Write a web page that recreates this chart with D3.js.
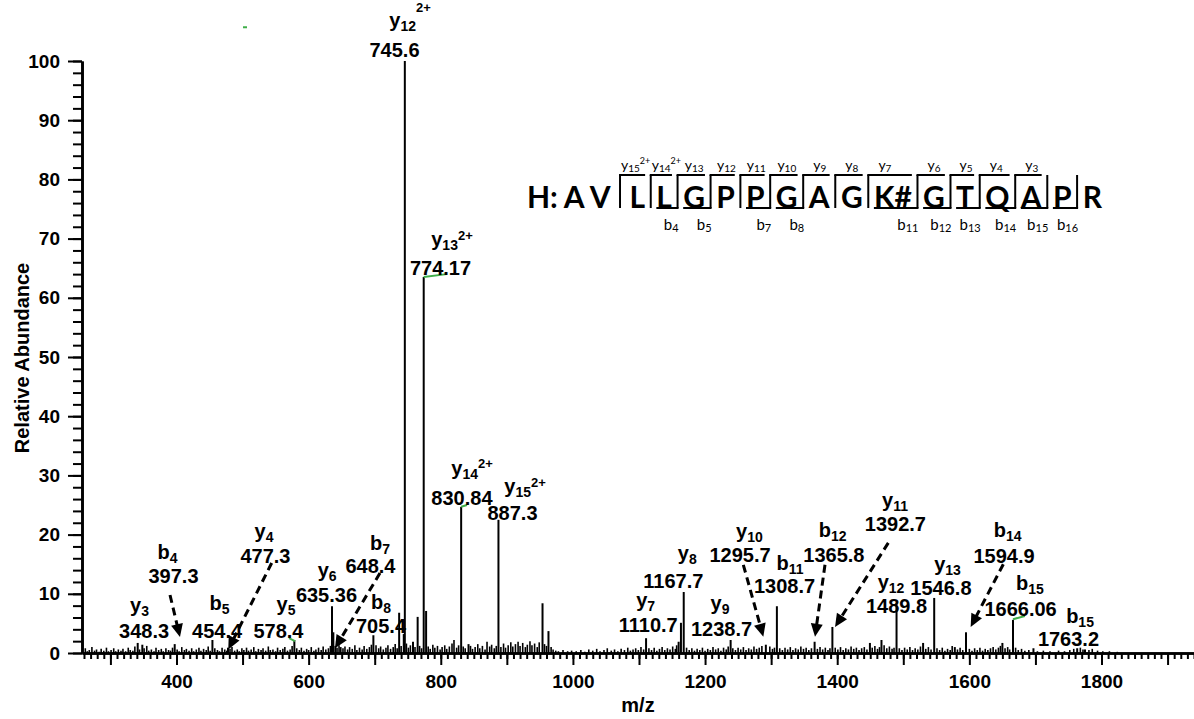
<!DOCTYPE html>
<html>
<head>
<meta charset="utf-8">
<script src="https://cdnjs.cloudflare.com/ajax/libs/d3/7.8.5/d3.min.js"></script>
<style>
  body { margin: 0; background: #fff; }
  svg { display: block; font-family: "Liberation Sans", Arial, sans-serif; }
</style>
</head>
<body>
<div id="chart"></div>
<script>
// ---- Data ----

// labelled fragment peaks (m/z, relative abundance %)
var peakMz  = [348.3, 397.3, 454.4, 578.4, 635.36, 698.0, 745.6, 774.17, 830.84, 887.3,
               1110.7, 1163.5, 1167.7, 1238.7, 1308.7, 1365.8, 1392.7, 1489.8, 1546.8, 1594.9, 1666.06, 1763.2];
var peakInt = [1.4, 1.5, 2.2, 2.2, 7.9, 3.0, 100, 63.5, 24.7, 22.5,
               2.5, 5.1, 10.3, 2.2, 7.9, 1.9, 4.4, 8.4, 9.3, 3.5, 5.6, 0.8];

// other visible peaks
var otherMz  = [341.3, 478.0, 637.4, 640.5, 648.4, 737.0, 744.0, 758.0, 765.0, 777.8, 842.0,
                954.0, 963.0, 1160.0, 1292.0, 1449.5, 1467.0, 1530.0, 1578.0, 1650.0, 1697.0, 1775.0];
var otherInt = [1.7, 0.9, 3.5, 1.2, 1.0, 6.8, 3.2, 1.9, 6.1, 7.1, 1.5,
                8.4, 3.7, 1.9, 1.4, 1.7, 2.2, 1.7, 1.0, 1.7, 0.8, 0.6];

// baseline noise (m/z, %)
var noiseA = [[262,0.8],[265,0.3],[268,0.5],[272,1.0],[276,0.4],[279,0.6],[283,0.2],[286,0.7],[290,0.4],[294,0.9],
  [297,0.3],[301,0.5],[305,0.8],[308,0.3],[312,0.6],[316,0.4],[319,0.7],[323,0.3],[327,0.9],[330,0.5],[334,0.4],
  [337,1.1],[344,0.6],[351,0.8],[355,1.2],[358,0.4],[362,0.6],[366,0.3],[369,0.9],[373,0.5],[377,0.7],[380,0.3],
  [384,0.8],[388,0.5],[391,0.4],[394,0.9],[401,0.6],[404,0.3],[408,1.0],[412,0.5],[415,0.7],[419,0.4],[423,0.8],
  [426,0.3],[430,0.6],[434,0.9],[437,0.4],[441,0.7],[445,0.5],[448,1.1],[451,0.4],[458,0.8],[462,0.5],[465,0.3],
  [469,0.9],[473,0.6],[476,0.4],[481,0.7],[484,1.0],[488,0.4],[492,0.6],[495,0.3],[499,0.8]];
var noiseB = [[502,0.5],[506,0.9],[509,0.4],[513,0.6],[517,1.0],[520,0.3],[524,0.7],[528,0.5],[531,0.8],[535,0.4],
  [539,1.1],[542,0.5],[546,0.6],[550,0.3],[553,0.9],[557,0.5],[561,0.7],[564,1.0],[568,0.4],[572,0.6],[575,1.2],
  [582,0.8],[586,0.5],[589,0.9],[593,0.4],[597,0.7],[600,0.5],[604,1.0],[608,0.4],[611,0.6],[615,0.9],[619,0.5],
  [622,1.1],[626,0.6],[630,0.8],[633,1.2],[643,0.9],[646,1.3],[652,0.8],[655,1.1],[659,0.6],[662,1.0],[666,0.7],
  [670,1.3],[673,0.5],[677,0.9],[681,0.6],[684,1.2],[688,0.7],[692,1.0],[695,1.4],[702,1.3],[706,0.8],[709,1.1],
  [713,0.6],[717,0.9],[720,1.3],[724,0.7],[728,1.0],[731,1.5],[734,0.8],[740,1.2],[748,1.6],[751,0.9],[754,1.3],[761,1.0]];
var noiseC = [[768,1.2],[771,0.8],[781,1.1],[784,0.7],[788,1.4],[791,0.9],[795,1.2],[799,0.6],[802,1.0],[806,1.3],
  [809,0.7],[813,1.1],[817,1.6],[820,2.2],[824,0.9],[827,1.3],[834,1.1],[837,0.8],[845,1.2],[848,0.7],[852,1.0],
  [856,1.5],[859,0.8],[863,1.2],[867,0.6],[870,1.9],[874,1.1],[877,1.4],[881,0.8],[884,1.2],[891,1.0],[895,1.6],
  [898,0.9],[902,1.3],[906,1.8],[909,1.1],[913,1.5],[917,1.9],[920,1.2],[924,1.7],[928,1.0],[931,1.4],[935,2.0],
  [938,1.3],[942,1.6],[946,1.0],[949,1.8],[957,1.5],[960,1.2],[967,1.0],[970,0.6],[974,0.4],[978,0.3],[985,0.5],
  [992,0.3],[998,0.4]];
var noiseD = [[1005,0.3],[1012,0.5],[1018,0.2],[1024,0.6],[1030,0.4],[1036,0.7],[1041,0.3],[1047,0.5],[1052,0.8],
  [1058,0.4],[1063,0.6],[1068,0.3],[1073,0.7],[1078,0.5],[1083,0.9],[1087,0.4],[1091,0.6],[1095,0.8],[1099,0.5],
  [1103,1.0],[1107,0.6],[1115,0.8],[1119,0.5],[1123,0.9],[1127,0.4],[1131,0.7],[1135,1.0],[1139,0.5],[1143,0.8],
  [1147,0.6],[1151,1.1],[1155,0.7],[1157,1.3],[1172,0.9],[1176,0.5],[1180,0.8],[1184,0.4],[1188,0.7],[1192,0.5],
  [1196,0.9],[1200,0.4],[1204,0.7],[1208,0.5],[1212,1.0],[1216,0.6],[1220,0.8],[1224,0.4],[1228,0.9],[1232,0.6],
  [1235,1.1],[1242,0.8],[1246,0.5],[1250,0.9],[1254,0.6],[1258,1.0],[1262,0.5],[1266,0.8],[1270,0.6],[1274,1.1],
  [1278,0.7],[1282,0.9],[1286,1.2],[1298,1.1],[1302,0.7],[1305,0.9]];
var noiseE = [[1313,0.8],[1317,0.5],[1321,0.9],[1325,0.6],[1329,1.0],[1333,0.5],[1337,0.8],[1341,0.6],[1345,1.1],
  [1349,0.7],[1353,0.9],[1357,0.5],[1361,0.8],[1370,0.7],[1374,1.0],[1378,0.6],[1382,0.9],[1386,0.5],[1389,0.8],
  [1397,0.9],[1401,0.6],[1405,1.0],[1409,0.5],[1413,0.8],[1417,0.6],[1421,1.1],[1425,0.7],[1429,0.9],[1433,0.5],
  [1437,0.8],[1441,1.0],[1445,0.6],[1453,0.9],[1457,1.2],[1461,0.7],[1464,1.0],[1471,1.3],[1475,0.8],[1479,1.1],
  [1483,0.7],[1486,0.9],[1494,0.8],[1498,0.5]];
var noiseF = [[1502,0.9],[1506,0.6],[1510,1.0],[1514,0.5],[1518,0.8],[1522,0.6],[1526,1.1],[1534,0.7],[1538,1.0],
  [1542,0.6],[1551,0.8],[1555,0.5],[1559,0.9],[1563,0.4],[1567,0.7],[1571,0.5],[1574,1.2],[1582,0.6],[1586,0.9],
  [1590,0.5],[1600,0.7],[1604,0.4],[1608,0.8],[1612,0.5],[1616,0.9],[1620,0.4],[1624,0.7],[1628,0.5],[1632,0.8],
  [1636,1.0],[1640,0.6],[1644,0.9],[1647,1.2],[1654,0.8],[1658,1.0],[1661,0.6],[1670,0.9],[1674,0.5],[1679,0.7],
  [1684,0.4],[1690,0.5],[1703,0.3],[1712,0.4],[1722,0.3],[1735,0.4],[1744,0.3],[1752,0.5],[1758,0.7],[1768,0.9],
  [1772,0.6],[1781,0.5],[1786,0.7],[1794,0.4],[1802,0.3],[1812,0.3],[1824,0.2]];

// fragment ion annotations
var ionType   = ["y","y","y","y","b","y","b","y","b","y","b","y","y","y","y","y","b","b","y","y","y","b","b","b"];
var ionNum    = ["12","13","14","15","4","4","7","6","8","3","5","5","8","7","9","10","11","12","11","12","13","14","15","15"];
var ionCharge = ["2+","2+","2+","2+","","","","","","","","","","","","","","","","","","","",""];
var ionMzText = ["745.6","774.17","830.84","887.3","397.3","477.3","648.4","635.36","705.4","348.3","454.4","578.4",
                 "1167.7","1110.7","1238.7","1295.7","1308.7","1365.8","1392.7","1489.8","1546.8","1594.9","1666.06","1763.2"];

// y / b ticks
var yTicks = d3.range(0, 101, 10);
var xTickLabels = [400, 600, 800, 1000, 1200, 1400, 1600, 1800];

// peptide sequence and observed cleavages (after residue n)
var residues  = ["A","V","L","L","G","P","P","G","A","G","K#","G","T","Q","A","P","R"];
var yCutAfter = [2,3,4,5,6,7,8,9,10,11,12,13,14];
var yCutZ     = ["2+","2+","","","","","","","","","","",""];
var bCutAfter = [4,5,7,8,11,12,13,14,15,16];

// ---- Layout (data units) for annotation text ----
// [number centre m/z, number baseline %, name centre m/z, name baseline %]
var ionTextAt = [[730,100.7,753.5,105.7],[799.6,63.9,817,68.7],[832,25.0,847.4,30.1],[908.6,22.5,927.5,27.0],
  [395.5,11.8,386.4,15.9],[534.7,15.2,532.5,19.4],[693.6,13.5,708,17.4],[627,8.6,628,12.9],[709.6,3.4,709.6,7.4],
  [351,2.5,344,7.0],[461.4,2.5,465,7.3],[554.3,2.5,565.7,7.1],[1152,11.0,1173,15.7],[1114,3.5,1110,7.8],
  [1225,2.9,1222.6,7.3],[1252.9,15.4,1267.2,19.4],[1320.2,10.1,1328.6,14.0],[1395,15.4,1393,19.6],
  [1488,20.6,1487.5,24.7],[1489.8,6.8,1481.4,10.8],[1557,9.8,1567,13.9],[1652.5,15.2,1658,19.6],
  [1677.5,6.25,1691.8,10.6],[1750,1.2,1767.5,5.1]];
// superscript lift (px) of the charge label on each ion name
var supLift = [15,6,7,6,0,0,0,0,0,0,0,0,0,0,0,0,0,0,0,0,0,0,0,0];
// dashed arrows [from m/z, from %, to m/z, to %]
var arrowsAt = [[390.2,9.8,405.3,2.7],[544.1,15.2,478.4,0.6],[708,13.5,639.9,0.8],[1257.9,14.9,1288.2,2.75],
  [1381.5,14.9,1366.4,2.75],[1477.3,18.6,1396.7,4.4],[1651.4,15.0,1602.0,4.4]];
// green leader strokes [m/z1, %1, m/z2, %2]
var leadersAt = [[774.17,63.5,809,64.0],[830.84,24.7,839.7,25.0],[570.3,2.5,579.4,2.0],[1666.06,5.7,1684,6.25],[500.7,105.7,506.7,105.7]];

// ---- Chart set up ----
var svgWidth = 1194;
var svgHeight = 719;
var margin = { top: 61, right: 0, bottom: 66, left: 82 };
var height = svgHeight - margin.top - margin.bottom;
var width = svgWidth - margin.left - margin.right;

var svg = d3.select("#chart")
  .append("svg")
  .attr("width", svgWidth)
  .attr("height", svgHeight);

var chartGroup = svg.append("g")
  .attr("transform", `translate(${margin.left}, ${margin.top})`);

var xScale = d3.scaleLinear().domain([257, 1940]).range([0, width]);
var yScale = d3.scaleLinear().domain([0, 100]).range([height, 0]);

// peaks
var noise = noiseA.concat(noiseB, noiseC, noiseD, noiseE, noiseF);
var major = peakMz.map((m, i) => [m, peakInt[i]]).concat(otherMz.map((m, i) => [m, otherInt[i]]));

chartGroup.selectAll(".noise")
  .data(noise)
  .enter()
  .append("line")
  .attr("class", "noise")
  .attr("x1", d => xScale(d[0])).attr("x2", d => xScale(d[0]))
  .attr("y1", yScale(0)).attr("y2", d => yScale(d[1]))
  .attr("stroke", "#000").attr("stroke-width", 1.6);

chartGroup.selectAll(".peak")
  .data(major)
  .enter()
  .append("line")
  .attr("class", "peak")
  .attr("x1", d => xScale(d[0])).attr("x2", d => xScale(d[0]))
  .attr("y1", yScale(0)).attr("y2", d => yScale(d[1]))
  .attr("stroke", "#000").attr("stroke-width", 2);

// axes
function styleAxis(g) {
  g.select(".domain").attr("stroke-width", 2.6);
  g.selectAll(".tick line").attr("stroke-width", 2);
  g.selectAll("text").attr("font-size", 19).attr("font-weight", "bold").attr("fill", "#000")
    .attr("font-family", "'Liberation Sans', Arial, sans-serif");
}

chartGroup.append("g")
  .call(d3.axisLeft(yScale).tickValues(d3.range(0, 101, 2)).tickSize(9).tickSizeOuter(0).tickFormat(""))
  .call(styleAxis);
chartGroup.append("g")
  .call(d3.axisLeft(yScale).tickValues(yTicks).tickSize(14).tickSizeOuter(0).tickPadding(8))
  .call(styleAxis);

chartGroup.append("g")
  .attr("transform", `translate(0, ${height})`)
  .call(d3.axisBottom(xScale).tickValues(d3.range(260, 1941, 10)).tickSize(6).tickSizeOuter(0).tickFormat(""))
  .call(styleAxis);
chartGroup.append("g")
  .attr("transform", `translate(0, ${height})`)
  .call(d3.axisBottom(xScale).tickValues(d3.range(300, 1901, 100)).tickSize(12).tickSizeOuter(0).tickPadding(10)
    .tickFormat(d => xTickLabels.indexOf(d) >= 0 ? d : ""))
  .call(styleAxis);

// axis titles
svg.append("text")
  .attr("transform", "translate(29, 358) rotate(-90)")
  .attr("text-anchor", "middle")
  .attr("font-size", 20).attr("font-weight", "bold")
  .text("Relative Abundance");

svg.append("text")
  .attr("x", 638).attr("y", 712)
  .attr("text-anchor", "middle")
  .attr("font-size", 20).attr("font-weight", "bold")
  .text("m/z");

// green leaders
chartGroup.selectAll(".leader")
  .data(leadersAt)
  .enter()
  .append("line")
  .attr("x1", d => xScale(d[0])).attr("y1", d => yScale(d[1]))
  .attr("x2", d => xScale(d[2])).attr("y2", d => yScale(d[3]))
  .attr("stroke", "#3fae49").attr("stroke-width", 2);

// dashed arrows
arrowsAt.forEach(function(a) {
  var x1 = xScale(a[0]), y1 = yScale(a[1]), x2 = xScale(a[2]), y2 = yScale(a[3]);
  var ang = Math.atan2(y2 - y1, x2 - x1);
  var headLen = 13, headW = 6;
  var bx = x2 - headLen * Math.cos(ang), by = y2 - headLen * Math.sin(ang);
  chartGroup.append("line")
    .attr("x1", x1).attr("y1", y1).attr("x2", bx + 2 * Math.cos(ang)).attr("y2", by + 2 * Math.sin(ang))
    .attr("stroke", "#000").attr("stroke-width", 3).attr("stroke-dasharray", "8,5");
  var px = -Math.sin(ang), py = Math.cos(ang);
  chartGroup.append("path")
    .attr("d", `M${x2},${y2}L${bx + headW * px},${by + headW * py}L${bx - headW * px},${by - headW * py}Z`)
    .attr("fill", "#000");
});

// ion labels
function ionName(sel, type, num, charge, big, small, sub, sup) {
  sel.append("tspan").attr("font-size", big).text(type);
  sel.append("tspan").attr("font-size", small).attr("dy", sub).text(num);
  if (charge) sel.append("tspan").attr("font-size", small - 1).attr("dy", -(sub + sup)).text(charge);
}

ionTextAt.forEach(function(p, i) {
  chartGroup.append("text")
    .attr("x", xScale(p[0])).attr("y", yScale(p[1]))
    .attr("text-anchor", "middle")
    .attr("font-size", 20).attr("font-weight", "bold")
    .text(ionMzText[i]);
  var t = chartGroup.append("text")
    .attr("x", xScale(p[2])).attr("y", yScale(p[3]))
    .attr("text-anchor", "middle")
    .attr("font-weight", "bold");
  ionName(t, ionType[i], ionNum[i], ionCharge[i], 20, 14, 4, supLift[i]);
});

// peptide sequence with fragment brackets
var seqX0 = 527, seqEnd = 1102, seqBase = 208, barTop = 175, seqSize = 30;
var seqG = svg.append("g")
  .attr("font-family", "Lato, 'Open Sans', sans-serif");
var lead = seqG.append("text")
  .attr("x", seqX0).attr("y", seqBase)
  .attr("font-size", seqSize).attr("font-weight", "bold")
  .text("H:");
var cursor = seqX0 + lead.node().getComputedTextLength() + 6;
var letters = residues.map(function(r) {
  return seqG.append("text")
    .attr("y", seqBase)
    .attr("font-size", seqSize).attr("font-weight", "bold")
    .text(r);
});
var widths = letters.map(t => t.node().getComputedTextLength());
var boxes = [];
// A and V sit close together, the bracketed residues share an even gap that ends at seqEnd
var startL = cursor + widths[0] + 5 + widths[1] + 19;
var gap = (seqEnd - startL - d3.sum(widths.slice(2))) / (residues.length - 3);
letters.forEach(function(t, i) {
  t.attr("x", cursor);
  boxes.push({ left: cursor, right: cursor + widths[i] });
  cursor += widths[i] + (i === 0 ? 5 : (i === 1 ? 19 : gap));
});
function sepX(after) { return (boxes[after - 1].right + boxes[after].left) / 2; }

var cuts = d3.union(yCutAfter, bCutAfter);
cuts.forEach(function(n) {
  seqG.append("line")
    .attr("x1", sepX(n)).attr("x2", sepX(n)).attr("y1", barTop).attr("y2", seqBase)
    .attr("stroke", "#000").attr("stroke-width", 2);
});
yCutAfter.forEach(function(n, i) {
  var sx = sepX(n), next = boxes[n];
  seqG.append("line")
    .attr("x1", sx - 1).attr("x2", next.right).attr("y1", barTop).attr("y2", barTop)
    .attr("stroke", "#000").attr("stroke-width", 2);
  var t = seqG.append("text").attr("y", 170);
  if (yCutZ[i]) {
    t.attr("x", sx + 1);
  } else {
    // centred over the next residue (over the first letter for the wide K#)
    var cx = Math.min((next.left + next.right) / 2, next.left + 10) + 1;
    t.attr("x", cx).attr("text-anchor", "middle");
  }
  ionName(t, "y", String(residues.length - n), yCutZ[i], 14, 10, 2, 6);
});
bCutAfter.forEach(function(n) {
  var sx = sepX(n);
  seqG.append("line")
    .attr("x1", boxes[n - 1].left).attr("x2", sx + 1).attr("y1", seqBase).attr("y2", seqBase)
    .attr("stroke", "#000").attr("stroke-width", 2);
  var t = seqG.append("text").attr("x", sx + 1).attr("y", 230).attr("text-anchor", "end");
  ionName(t, "b", String(n), "", 15, 11, 2, 0);
});
</script>
</body>
</html>
